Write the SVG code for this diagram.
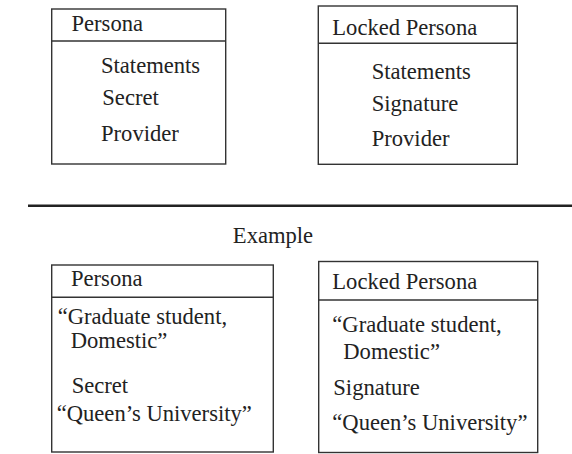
<svg xmlns="http://www.w3.org/2000/svg" width="572" height="454" viewBox="0 0 572 454">
<style>
.box{fill:#fff;stroke:#333;stroke-width:1.4}
.div{stroke:#333;stroke-width:1.4}
.t{font-family:'Liberation Serif','Times New Roman',serif;font-size:22.6px;fill:#222}
</style>
<rect width="572" height="454" fill="#fff"/>
<g id="persona-top" class="t">
<rect class="box" x="51.7" y="9" width="174" height="155"/>
<line class="div" x1="51.7" y1="41" x2="225.7" y2="41"/>
<text x="71.5" y="31">Persona</text>
<text x="101" y="73">Statements</text>
<text x="102.3" y="104.5">Secret</text>
<text x="101" y="141">Provider</text>
</g>
<g id="locked-persona-top" class="t">
<rect class="box" x="318.3" y="6" width="199" height="158.3"/>
<line class="div" x1="318.3" y1="43.3" x2="517.3" y2="43.3"/>
<text x="332.3" y="34.5">Locked Persona</text>
<text x="371.7" y="78.5">Statements</text>
<text x="371.7" y="110.5">Signature</text>
<text x="371.7" y="145.5">Provider</text>
</g>
<g id="connectors">
<line x1="28" y1="205.7" x2="572" y2="205.7" stroke="#222" stroke-width="2.6"/>
</g>
<g id="example-label" class="t">
<text x="273" y="243" text-anchor="middle">Example</text>
</g>
<g id="persona-example" class="t">
<rect class="box" x="51.7" y="265" width="221.6" height="187"/>
<line class="div" x1="51.7" y1="297.3" x2="273.3" y2="297.3"/>
<text x="71" y="286">Persona</text>
<text x="57.7" y="324">“Graduate student,</text>
<text x="70.7" y="347.7">Domestic”</text>
<text x="71.7" y="393">Secret</text>
<text x="56.7" y="421">“Queen’s University”</text>
</g>
<g id="locked-persona-example" class="t">
<rect class="box" x="318.7" y="261.5" width="219" height="191"/>
<line class="div" x1="318.7" y1="300" x2="537.7" y2="300"/>
<text x="332.3" y="289.3">Locked Persona</text>
<text x="332.3" y="331.7">“Graduate student,</text>
<text x="343.3" y="359.3">Domestic”</text>
<text x="333.3" y="395">Signature</text>
<text x="332.3" y="430">“Queen’s University”</text>
</g>
</svg>
